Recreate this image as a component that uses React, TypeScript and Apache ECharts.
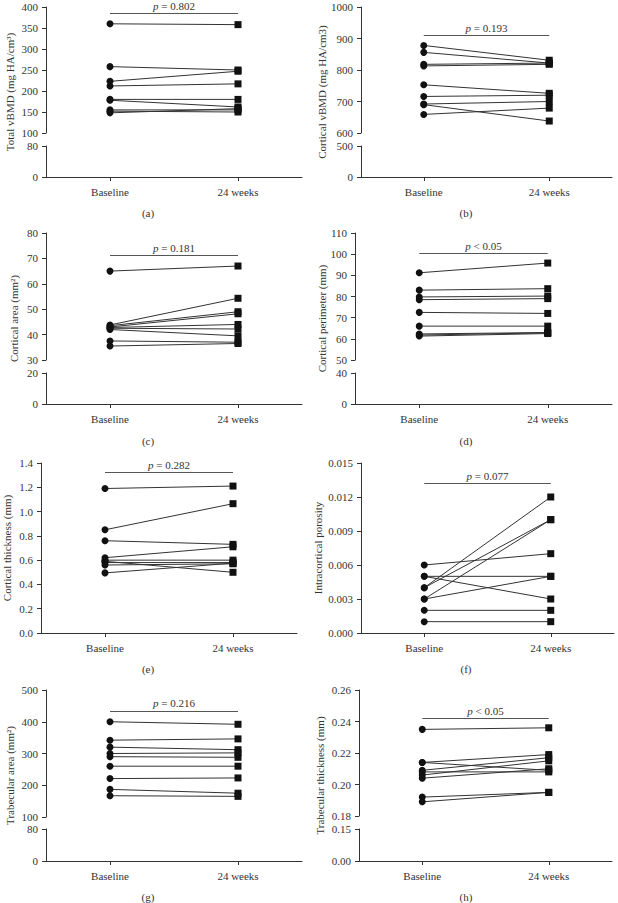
import React, { useEffect, useRef } from "react";
import * as echarts from "echarts";

const categories = ["Baseline", "24 weeks"];

// (a) Total vBMD
const totalVbmdBase = [360, 258, 223, 212, 180, 178, 155, 152, 148];
const totalVbmdWk24 = [358, 250, 247, 217, 180, 162, 155, 150, 158];
// (b) Cortical vBMD
const cortVbmdBase = [878, 856, 818, 813, 753, 716, 692, 690, 659];
const cortVbmdWk24 = [831, 822, 822, 818, 726, 720, 700, 638, 679];
// (c) Cortical area
const cortAreaBase = [65, 43.8, 43.5, 43, 42.8, 42.5, 42, 37.5, 35.5];
const cortAreaWk24 = [67, 54.3, 49, 48.2, 44, 42.2, 39.5, 37, 36.5];
// (d) Cortical perimeter
const cortPerimBase = [91.2, 83, 79.8, 78.5, 72.5, 66, 62.3, 61.8, 61.3];
const cortPerimWk24 = [95.8, 83.7, 80.2, 79, 72, 66, 63, 62.8, 62.5];
// (e) Cortical thickness
const cortThickBase = [1.19, 0.85, 0.76, 0.62, 0.6, 0.59, 0.58, 0.56, 0.495];
const cortThickWk24 = [1.21, 1.065, 0.73, 0.71, 0.6, 0.5, 0.58, 0.57, 0.575];
// (f) Intracortical porosity
const porosityBase = [0.006, 0.005, 0.005, 0.004, 0.004, 0.003, 0.003, 0.002, 0.001];
const porosityWk24 = [0.007, 0.005, 0.003, 0.012, 0.01, 0.01, 0.005, 0.002, 0.001];
// (g) Trabecular area
const trabAreaBase = [400, 342, 320, 300, 290, 260, 221, 187, 167];
const trabAreaWk24 = [392, 346, 312, 302, 288, 260, 223, 175, 165];
// (h) Trabecular thickness
const trabThickBase = [0.235, 0.214, 0.214, 0.209, 0.208, 0.206, 0.204, 0.192, 0.189];
const trabThickWk24 = [0.236, 0.219, 0.209, 0.217, 0.208, 0.215, 0.21, 0.195, 0.195];

const axisNames = [
  "Total vBMD (mg HA/cm³)",
  "Cortical vBMD (mg HA/cm3)",
  "Cortical area (mm²)",
  "Cortical perimeter (mm)",
  "Cortical thickness (mm)",
  "Intracortical porosity",
  "Trabecular area (mm²)",
  "Trabecular thickness (mm)",
];
const panelTags = ["(a)", "(b)", "(c)", "(d)", "(e)", "(f)", "(g)", "(h)"];
const pTexts = ["= 0.802", "= 0.193", "= 0.181", "< 0.05", "= 0.282", "= 0.077", "= 0.216", "< 0.05"];
const pLineValues = [384, 911, 71.3, 100.5, 1.32, 0.0132, 434, 0.242];
// [min, max, interval] of the main (upper) axis segment
const upperRanges: [number, number, number][] = [
  [100, 400, 50],
  [600, 1000, 100],
  [30, 80, 10],
  [50, 110, 10],
  [0, 1.4, 0.2],
  [0, 0.015, 0.003],
  [100, 500, 100],
  [0.18, 0.26, 0.02],
];
// max of the lower (broken) segment, null = no break
const lowerMaxes: (number | null)[] = [80, 500, 20, 40, null, null, 80, 0.15];
const labelDecimals = [0, 0, 0, 0, 1, 3, 0, 2];

const seriesBase = [totalVbmdBase, cortVbmdBase, cortAreaBase, cortPerimBase, cortThickBase, porosityBase, trabAreaBase, trabThickBase];
const seriesWk24 = [totalVbmdWk24, cortVbmdWk24, cortAreaWk24, cortPerimWk24, cortThickWk24, porosityWk24, trabAreaWk24, trabThickWk24];

// layout (pixels)
const layouts = [
  { left: 46, width: 256, top: 7, upperBottom: 133, lowerTop: 146, bottom: 177, nameX: 10, tagX: 148, tagY: 213 },
  { left: 361, width: 251, top: 7, upperBottom: 133, lowerTop: 146, bottom: 177, nameX: 322, tagX: 466, tagY: 213 },
  { left: 46, width: 256, top: 233, upperBottom: 360, lowerTop: 373, bottom: 404, nameX: 14, tagX: 148, tagY: 441 },
  { left: 355, width: 257, top: 233, upperBottom: 360, lowerTop: 373, bottom: 404, nameX: 322, tagX: 466, tagY: 441 },
  { left: 41, width: 256, top: 463, upperBottom: 633, lowerTop: 0, bottom: 633, nameX: 7, tagX: 148, tagY: 669 },
  { left: 361, width: 253, top: 463, upperBottom: 633, lowerTop: 0, bottom: 633, nameX: 318, tagX: 466, tagY: 669 },
  { left: 46, width: 256, top: 690, upperBottom: 817, lowerTop: 829, bottom: 861, nameX: 10, tagX: 148, tagY: 897 },
  { left: 359, width: 253, top: 690, upperBottom: 816, lowerTop: 829, bottom: 861, nameX: 320, tagX: 466, tagY: 897 },
];

const FONT = "'Liberation Serif', 'DejaVu Serif', serif";
const TXT = "#333";
const AX = "#333";

function buildOption() {
  const grid: any[] = [];
  const xAxis: any[] = [];
  const yAxis: any[] = [];
  const series: any[] = [];
  const graphic: any[] = [];

  const xAxisBase = (gi: number, show: boolean) => ({
    type: "category",
    gridIndex: gi,
    data: categories,
    boundaryGap: true,
    show,
    axisLine: { show: true, lineStyle: { color: AX, width: 1 } },
    axisTick: { show: true, alignWithLabel: true, length: 4, lineStyle: { color: AX, width: 1 } },
    axisLabel: { fontFamily: FONT, fontSize: 11, color: TXT, margin: 9 },
    splitLine: { show: false },
  });
  const yAxisBase = (gi: number, min: number, max: number, interval: number, dec: number) => ({
    type: "value",
    gridIndex: gi,
    min,
    max,
    interval,
    axisLine: { show: true, lineStyle: { color: AX, width: 1 } },
    axisTick: { show: true, length: 4, lineStyle: { color: AX, width: 1 } },
    axisLabel: {
      fontFamily: FONT,
      fontSize: 11,
      color: TXT,
      margin: 8,
      formatter: (v: number) => v.toFixed(dec),
    },
    splitLine: { show: false },
  });

  for (let p = 0; p < 8; p++) {
    const L = layouts[p];
    const [umin, umax, uint] = upperRanges[p];
    const lmax = lowerMaxes[p];
    const dec = labelDecimals[p];
    const upperIdx = grid.length;
    grid.push({
      left: L.left,
      top: L.top,
      width: L.width,
      height: L.upperBottom - L.top,
      containLabel: false,
      outerBoundsMode: "none",
    });
    xAxis.push(xAxisBase(upperIdx, lmax === null));
    yAxis.push(yAxisBase(upperIdx, umin, umax, uint, dec));
    if (lmax !== null) {
      const lowerIdx = grid.length;
      grid.push({
        left: L.left,
        top: L.lowerTop,
        width: L.width,
        height: L.bottom - L.lowerTop,
        containLabel: false,
        outerBoundsMode: "none",
      });
      xAxis.push(xAxisBase(lowerIdx, true));
      yAxis.push(yAxisBase(lowerIdx, 0, lmax, lmax, dec));
    }

    const base = seriesBase[p];
    const wk = seriesWk24[p];
    for (let i = 0; i < base.length; i++) {
      const s: any = {
        type: "line",
        xAxisIndex: upperIdx,
        yAxisIndex: upperIdx,
        silent: true,
        data: [
          { value: base[i], symbol: "circle", symbolSize: 7 },
          { value: wk[i], symbol: "rect", symbolSize: 7 },
        ],
        lineStyle: { color: "#333", width: 1 },
        itemStyle: { color: "#111", borderWidth: 0 },
        emphasis: { disabled: true },
      };
      if (i === 0) {
        const pt = pTexts[p];
        s.markLine = {
          silent: true,
          symbol: ["none", "none"],
          lineStyle: { type: "solid", color: "#555", width: 1 },
          label: {
            show: true,
            position: "insideMiddleTop",
            distance: 2,
            fontFamily: FONT,
            fontSize: 11,
            color: TXT,
            formatter: () => "{i|p} " + pt,
            rich: { i: { fontStyle: "italic", fontFamily: FONT, fontSize: 11, color: TXT } },
          },
          emphasis: { disabled: true },
          data: [
            [
              { coord: [categories[0], pLineValues[p]] },
              { coord: [categories[1], pLineValues[p]] },
            ],
          ],
        };
      }
      series.push(s);
    }

    graphic.push({
      type: "text",
      x: L.nameX,
      y: (L.top + L.bottom) / 2,
      rotation: Math.PI / 2,
      style: {
        text: axisNames[p],
        fontFamily: FONT,
        fontSize: 11,
        fill: TXT,
        textAlign: "center",
        textVerticalAlign: "middle",
      },
    });
    graphic.push({
      type: "text",
      x: L.tagX,
      y: L.tagY,
      style: {
        text: panelTags[p],
        fontFamily: FONT,
        fontSize: 11,
        fill: TXT,
        textAlign: "center",
        textVerticalAlign: "middle",
      },
    });
  }

  return {
    animation: false,
    backgroundColor: "#fff",
    grid,
    xAxis,
    yAxis,
    series,
    graphic,
  };
}

export default function App() {
  const ref = useRef<HTMLDivElement>(null);
  useEffect(() => {
    if (!ref.current) return;
    const chart = echarts.init(ref.current, undefined, { renderer: "svg" });
    chart.setOption(buildOption() as any);
    return () => chart.dispose();
  }, []);
  return (
    <div
      ref={ref}
      style={{ position: "absolute", left: 0, top: 0, width: 618, height: 903, background: "#fff" }}
    />
  );
}
